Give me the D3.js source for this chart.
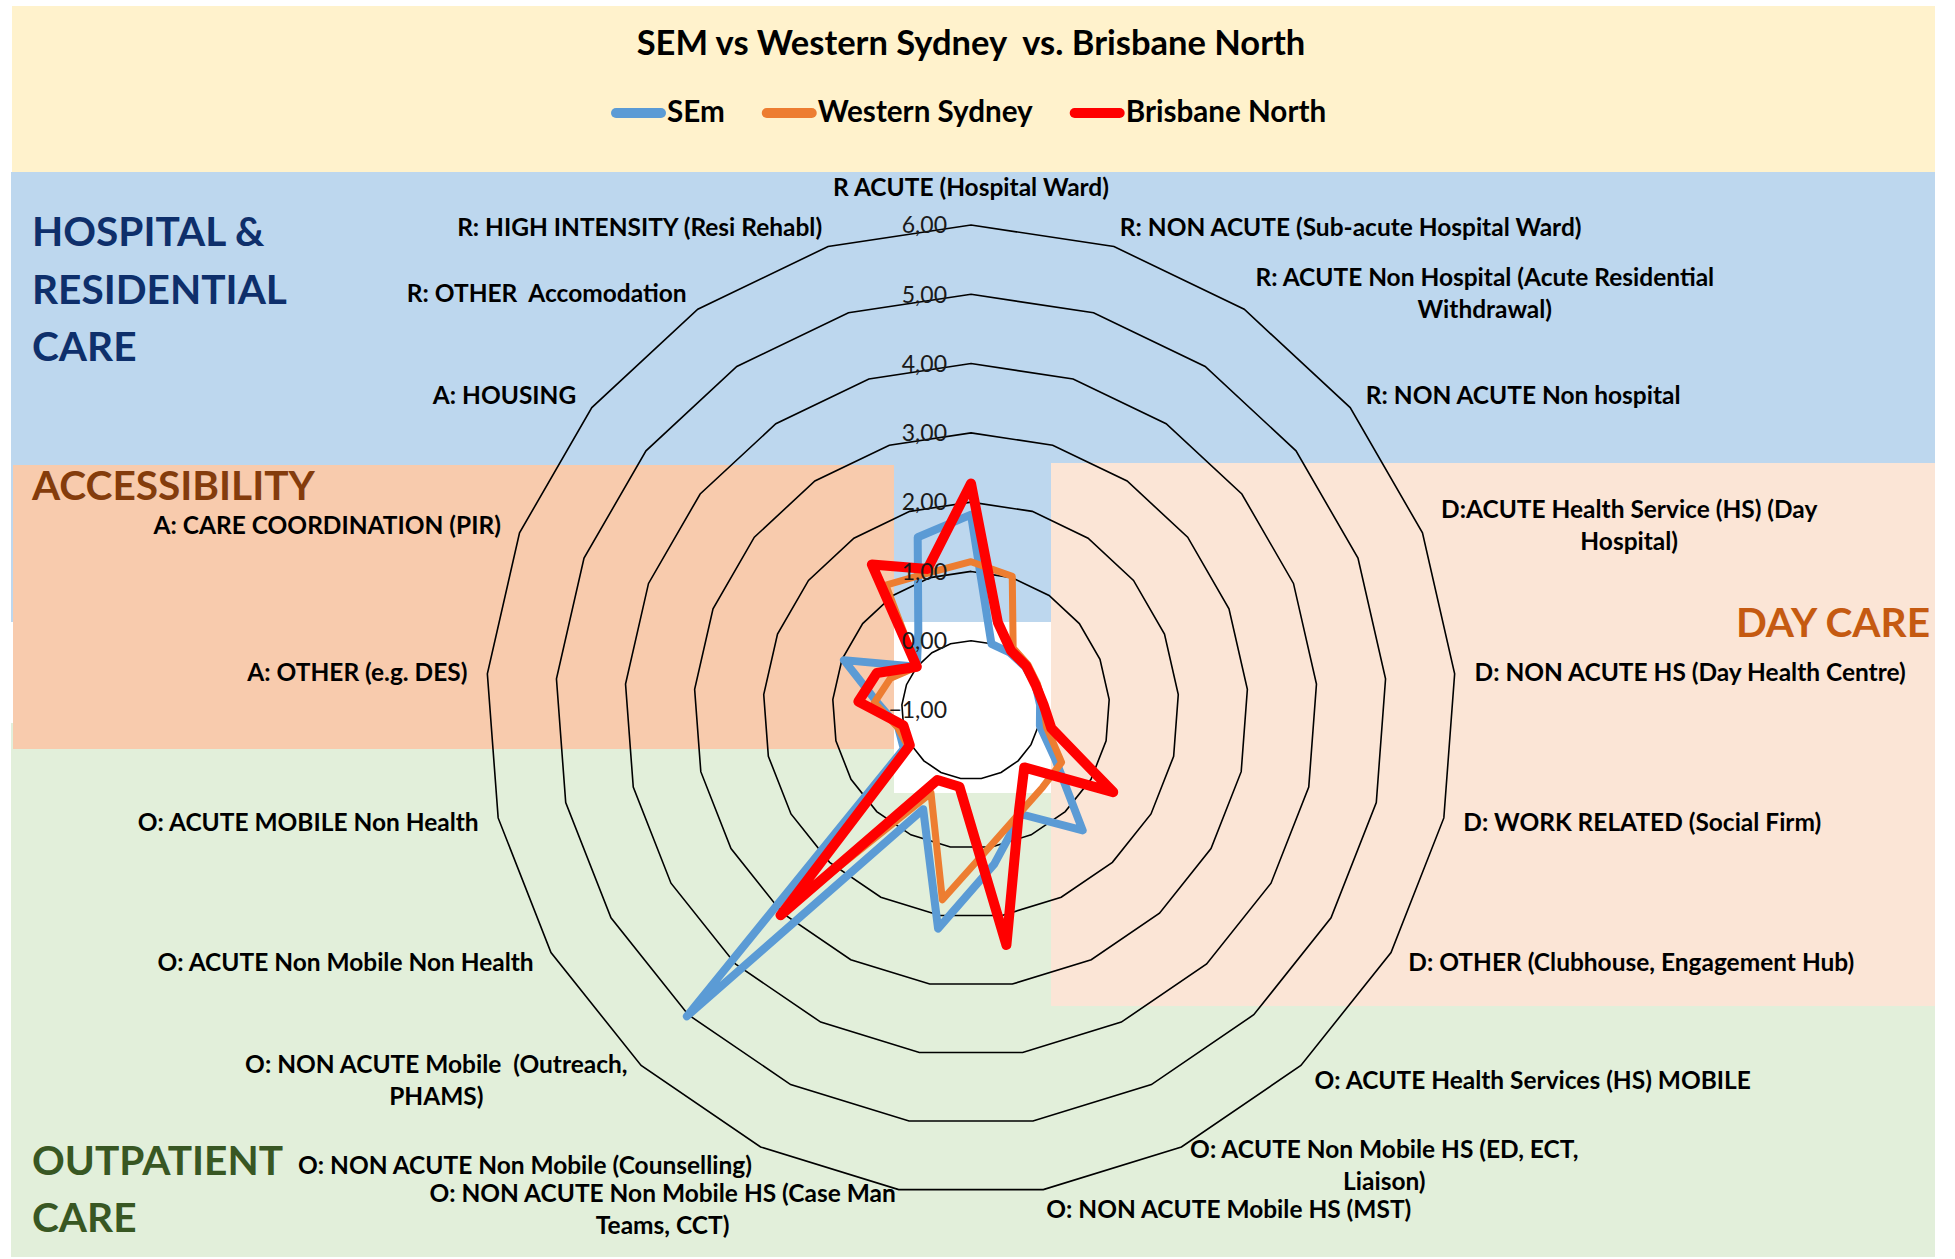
<!DOCTYPE html>
<html>
<head>
<meta charset="utf-8">
<script src="https://cdn.jsdelivr.net/npm/d3@7"></script>
<style>
  body { margin: 0; background: #fff; }
  text { font-family: Lato, "Open Sans", sans-serif; white-space: pre; }
</style>
</head>
<body>
<div id="chart"></div>
<script>
// categories, clockwise from the top
var categories = [
  "R ACUTE (Hospital Ward)",
  "R: NON ACUTE (Sub-acute Hospital Ward)",
  "R: ACUTE Non Hospital (Acute Residential\nWithdrawal)",
  "R: NON ACUTE Non hospital",
  "D:ACUTE Health Service (HS) (Day\nHospital)",
  "D: NON ACUTE HS (Day Health Centre)",
  "D: WORK RELATED (Social Firm)",
  "D: OTHER (Clubhouse, Engagement Hub)",
  "O: ACUTE Health Services (HS) MOBILE",
  "O: ACUTE Non Mobile HS (ED, ECT,\nLiaison)",
  "O: NON ACUTE Mobile HS (MST)",
  "O: NON ACUTE Non Mobile HS (Case Man\nTeams, CCT)",
  "O: NON ACUTE Non Mobile (Counselling)",
  "O: NON ACUTE Mobile  (Outreach,\nPHAMS)",
  "O: ACUTE Non Mobile Non Health",
  "O: ACUTE MOBILE Non Health",
  "A: OTHER (e.g. DES)",
  "A: CARE COORDINATION (PIR)",
  "A: HOUSING",
  "R: OTHER  Accomodation",
  "R: HIGH INTENSITY (Resi Rehabl)"
];

var seriesNames = ["SEm", "Western Sydney", "Brisbane North"];
var seriesColors = ["#5B9BD5", "#ED7D31", "#FF0000"];

var semValues = [1.82, 0.00, 0.00, 0.00, 0.00, 0.00, 0.02, 0.40, 1.37, 0.67, 1.25,
                 2.19, 0.59, 5.03, 0.12, 0.08, 0.35, 0.97, 0.00, 0.35, 1.61];
var westernSydneyValues = [1.14, 1.02, 0.08, 0.05, 0.03, 0.05, 0.12, 0.51, 0.52, 0.64, 0.97,
                           1.77, 0.33, 2.92, 0.05, 0.09, 0.40, 0.25, 0.00, 1.18, 1.07];
var brisbaneNorthValues = [2.27, 0.32, 0.03, 0.02, 0.00, 0.05, 0.19, 1.37, 0.13, 0.60, 2.43,
                           0.12, 0.12, 3.04, 0.02, 0.00, 0.63, 0.46, 0.00, 1.54, 1.13];

var tickValues = [-1, 0, 1, 2, 3, 4, 5, 6];

var titleText = "SEM vs Western Sydney  vs. Brisbane North";

// section headings
var sectionNames = [
  ["HOSPITAL &", "RESIDENTIAL", "CARE"],
  ["ACCESSIBILITY"],
  ["DAY CARE"],
  ["OUTPATIENT", "CARE"]
];

var width = 1955, height = 1259;
var cx = 971, cy = 710, radius = 485;

var svg = d3.select('#chart').append('svg')
  .attr('width', width)
  .attr('height', height);

// coloured background panels
var panels = [
  {x: 12, y: 6, w: 1923, h: 166, fill: '#FFF2CC'},
  {x: 11, y: 172, w: 1924, h: 450, fill: '#BDD7EE'},
  {x: 11, y: 723, w: 883, h: 534, fill: '#E2EFDA'},
  {x: 11, y: 793, w: 1924, h: 464, fill: '#E2EFDA'},
  {x: 13, y: 465, w: 881, h: 284, fill: '#F8CBAD'},
  {x: 1051, y: 463, w: 884, h: 543, fill: '#FBE5D6'}
];
svg.selectAll('rect.panel')
  .data(panels)
  .enter().append('rect')
  .attr('class', 'panel')
  .attr('x', function(d){ return d.x; })
  .attr('y', function(d){ return d.y; })
  .attr('width', function(d){ return d.w; })
  .attr('height', function(d){ return d.h; })
  .attr('fill', function(d){ return d.fill; });

// scale a text so it spans the given width
function fitWidth(sel, target){
  var w = sel.node().getComputedTextLength();
  var fs = parseFloat(sel.attr('font-size'));
  var size = fs * target / w;
  sel.attr('font-size', size);
  return size;
}

// title
var title = svg.append('text')
  .attr('x', cx)
  .attr('y', 55)
  .attr('text-anchor', 'middle')
  .attr('font-weight', 'bold')
  .attr('font-size', 30)
  .attr('fill', '#000')
  .text(titleText);
fitWidth(title, 669);

// legend
var legend = svg.append('g');
var probe = legend.append('text').attr('font-weight', 'bold').attr('font-size', 28).text(seriesNames[1]);
var legendSize = fitWidth(probe, 215);
probe.remove();
var legendX = 611;
seriesNames.forEach(function(name, i){
  legend.append('line')
    .attr('x1', legendX + 5).attr('x2', legendX + 50)
    .attr('y1', 113).attr('y2', 113)
    .attr('stroke', seriesColors[i])
    .attr('stroke-width', 10)
    .attr('stroke-linecap', 'round');
  var t = legend.append('text')
    .attr('x', legendX + 56)
    .attr('y', 122)
    .attr('font-weight', 'bold')
    .attr('font-size', legendSize)
    .attr('fill', '#000')
    .text(name);
  legendX += 56 + t.node().getComputedTextLength() + 37;
});

// radar
var r = d3.scaleLinear().domain([-1, 6]).range([0, radius]);
var n = categories.length;
function angle(i){ return i * 2 * Math.PI / n; }

var main = svg.append('g')
  .attr('transform', 'translate(' + cx + ',' + cy + ')');

var radial = d3.lineRadial()
  .angle(function(d, i){ return angle(i); })
  .radius(function(d){ return r(d); })
  .curve(d3.curveLinearClosed);

// grid rings
var ringValues = tickValues.filter(function(v){ return v > -1; });
main.selectAll('path.ring')
  .data(ringValues)
  .enter().append('path')
  .attr('class', 'ring')
  .attr('d', function(v){ return radial(categories.map(function(){ return v; })); })
  .attr('fill', function(v){ return v === 0 ? '#fff' : 'none'; })
  .attr('stroke', '#000')
  .attr('stroke-width', 1.6);

// series
var seriesValues = [semValues, westernSydneyValues, brisbaneNorthValues];
var seriesWidths = [8, 7, 10];
main.selectAll('path.series')
  .data(seriesValues)
  .enter().append('path')
  .attr('class', 'series')
  .attr('d', function(d){ return radial(d); })
  .attr('fill', 'none')
  .attr('stroke', function(d, i){ return seriesColors[i]; })
  .attr('stroke-width', function(d, i){ return seriesWidths[i]; })
  .attr('stroke-linejoin', 'round')
  .attr('stroke-linecap', 'round');

// value labels, drawn above the series
var fmt = d3.format('.2f');
main.selectAll('text.tick')
  .data(tickValues)
  .enter().append('text')
  .attr('class', 'tick')
  .attr('x', -24)
  .attr('y', function(v){ return -r(v); })
  .attr('dy', '0.36em')
  .attr('text-anchor', 'end')
  .attr('font-size', 23)
  .attr('fill', '#1a1a1a')
  .text(function(v){ return fmt(v).replace('.', ','); });

// category labels
var probeCat = main.append('text').attr('font-weight', 'bold').attr('font-size', 24).text(categories[0]);
var catSize = fitWidth(probeCat, 276);
probeCat.remove();

categories.forEach(function(c, i){
  var a = angle(i), s = Math.sin(a), co = -Math.cos(a);
  var ax = (radius + 20) * s, ay = (radius + 20) * co;
  var lines = c.split('\n');
  if (i === 0) ay -= 18;
  var t = main.append('text')
    .attr('font-weight', 'bold')
    .attr('font-size', catSize)
    .attr('text-anchor', 'middle')
    .attr('fill', '#000');
  var spans = lines.map(function(line, j){
    return t.append('tspan')
      .attr('y', ay - (lines.length - 1) * 16 + j * 32)
      .attr('dy', '0.36em')
      .text(line);
  });
  var bw = d3.max(spans, function(sp){ return sp.node().getComputedTextLength(); });
  var mx = Math.abs(s) < 0.05 ? ax : (s > 0 ? ax + bw / 2 : ax - bw / 2);
  spans.forEach(function(sp){ sp.attr('x', mx); });
});

// section headings
var sectionColors = ['#0E2F6B', '#843C0C', '#C55A11', '#385723'];
var sectionPos = [
  {x: 32, y: [246, 304, 361], anchor: 'start'},
  {x: 32, y: [500], anchor: 'start'},
  {x: 1930, y: [637], anchor: 'end'},
  {x: 32, y: [1175, 1232], anchor: 'start'}
];
var probeSec = svg.append('text').attr('font-weight', 'bold').attr('font-size', 44).text(sectionNames[0][1]);
var secSize = fitWidth(probeSec, 255);
probeSec.remove();

sectionNames.forEach(function(lines, i){
  lines.forEach(function(line, j){
    svg.append('text')
      .attr('x', sectionPos[i].x)
      .attr('y', sectionPos[i].y[j])
      .attr('text-anchor', sectionPos[i].anchor)
      .attr('font-weight', 'bold')
      .attr('font-size', secSize)
      .attr('fill', sectionColors[i])
      .text(line);
  });
});
</script>
</body>
</html>
